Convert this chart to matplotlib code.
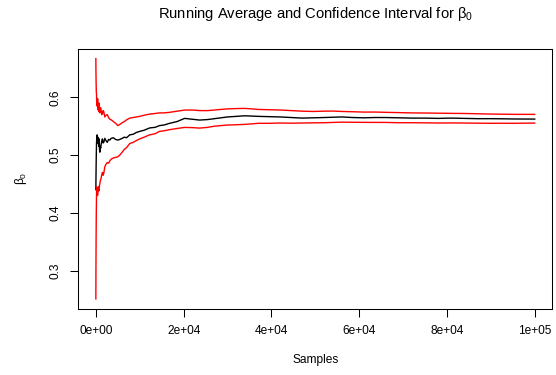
import matplotlib
matplotlib.use("Agg")
import matplotlib.pyplot as plt
from matplotlib.ticker import FuncFormatter

plt.rcParams['font.family'] = ['Liberation Sans', 'DejaVu Sans']
plt.rcParams['mathtext.fontset'] = 'custom'
plt.rcParams['mathtext.rm'] = 'Liberation Sans'
plt.rcParams['mathtext.it'] = 'Liberation Sans'

samples = [1, 20, 60, 100, 150, 220, 300, 380, 455, 530, 600, 680, 750, 830,
           909, 1000, 1100, 1200, 1350, 1500, 1650, 1800, 2045, 2300, 2600,
           2900, 3182, 3500, 4000, 4500, 5000, 5455, 6000, 6500, 7000, 7727,
           8500, 9200, 10000, 11000, 12273, 13500, 14500, 15500, 16818, 18500,
           20227, 22000, 23636, 25500, 27000, 28500, 30000, 32000, 33864,
           35500, 37000, 39500, 42000, 44500, 47000, 49500, 52000, 54000,
           56000, 58500, 61136, 63500, 66000, 69000, 72000, 75000, 78000,
           81000, 84000, 87000, 90000, 92500, 95000, 97500, 100000]

run_mean = [0.44, 0.455, 0.48, 0.50, 0.52, 0.532, 0.535, 0.527, 0.531, 0.52,
            0.522, 0.515, 0.528, 0.51, 0.505, 0.515, 0.512, 0.518, 0.524,
            0.528, 0.521, 0.522, 0.529, 0.525, 0.522, 0.527, 0.526, 0.529,
            0.530, 0.527, 0.526, 0.527, 0.529, 0.531, 0.530, 0.535, 0.536,
            0.539, 0.541, 0.543, 0.547, 0.548, 0.551, 0.552, 0.555, 0.558,
            0.5635, 0.562, 0.5606, 0.5615, 0.563, 0.5645, 0.566, 0.567, 0.568,
            0.5675, 0.567, 0.5665, 0.566, 0.565, 0.564, 0.5645, 0.565, 0.5655,
            0.566, 0.565, 0.5645, 0.565, 0.565, 0.5645, 0.564, 0.564, 0.5635,
            0.564, 0.5635, 0.563, 0.563, 0.5628, 0.5625, 0.5624, 0.5623]

ci_upper = [0.667, 0.645, 0.625, 0.61, 0.605, 0.585, 0.59, 0.598, 0.596,
            0.578, 0.585, 0.575, 0.59, 0.578, 0.573, 0.580, 0.582, 0.578,
            0.570, 0.572, 0.577, 0.575, 0.566, 0.569, 0.57, 0.565, 0.562,
            0.561, 0.558, 0.555, 0.551, 0.553, 0.556, 0.558, 0.561, 0.564,
            0.565, 0.566, 0.567, 0.569, 0.571, 0.572, 0.573, 0.573, 0.574,
            0.576, 0.5779, 0.578, 0.577, 0.577, 0.578, 0.579, 0.580, 0.5805,
            0.5808, 0.580, 0.579, 0.5785, 0.578, 0.577, 0.576, 0.5755, 0.576,
            0.5762, 0.5755, 0.575, 0.5744, 0.5745, 0.574, 0.5735, 0.573,
            0.5728, 0.5725, 0.5722, 0.572, 0.5715, 0.571, 0.5708, 0.5705,
            0.5705, 0.5704]

ci_lower = [0.251, 0.30, 0.36, 0.40, 0.43, 0.445, 0.44, 0.43, 0.434, 0.442,
            0.445, 0.438, 0.44, 0.448, 0.45, 0.455, 0.457, 0.46, 0.466, 0.47,
            0.465, 0.468, 0.48, 0.484, 0.487, 0.486, 0.49, 0.493, 0.495,
            0.496, 0.497, 0.50, 0.505, 0.51, 0.513, 0.52, 0.522, 0.525, 0.528,
            0.531, 0.535, 0.537, 0.541, 0.542, 0.544, 0.546, 0.5479, 0.5475,
            0.5467, 0.548, 0.550, 0.551, 0.552, 0.5525, 0.5531, 0.554, 0.555,
            0.555, 0.5555, 0.5552, 0.5555, 0.5558, 0.556, 0.5565, 0.557,
            0.5568, 0.5566, 0.5566, 0.5565, 0.556, 0.556, 0.5558, 0.5555,
            0.5556, 0.5555, 0.5552, 0.555, 0.5551, 0.555, 0.5552, 0.5554]

x_ticks = [0, 20000, 40000, 60000, 80000, 100000]
y_ticks = [0.3, 0.4, 0.5, 0.6]

fig = plt.figure(figsize=(5.56, 3.75), dpi=100)
ax = fig.add_axes([78.3 / 556, 1 - 308.5 / 375, 474 / 556, 259.5 / 375])

ax.plot(samples, run_mean, color='black', lw=1.0)
ax.plot(samples, ci_upper, color='red', lw=1.0)
ax.plot(samples, ci_lower, color='red', lw=1.0)
ax.margins(0.04)

ax.set_xticks(x_ticks)
ax.set_yticks(y_ticks)
ax.xaxis.set_major_formatter(FuncFormatter(lambda v, p: f"{v:.0e}"))
ax.yaxis.set_major_formatter(FuncFormatter(lambda v, p: f"{v:.1f}"))
for lab in ax.get_yticklabels():
    lab.set_rotation(90)
    lab.set_va('center')
ax.tick_params(length=5.8, width=0.75, labelsize=8.6, pad=6)
for s in ax.spines.values():
    s.set_linewidth(0.75)

ax.set_xlabel('Samples', fontsize=8.6, labelpad=12)
ax.set_ylabel(r'$\beta_0$', fontsize=8.6, labelpad=15)
ax.set_title(r'Running Average and Confidence Interval for $\beta_0$',
             fontsize=10.6, pad=22)

fig.savefig('out.png', dpi=100)
